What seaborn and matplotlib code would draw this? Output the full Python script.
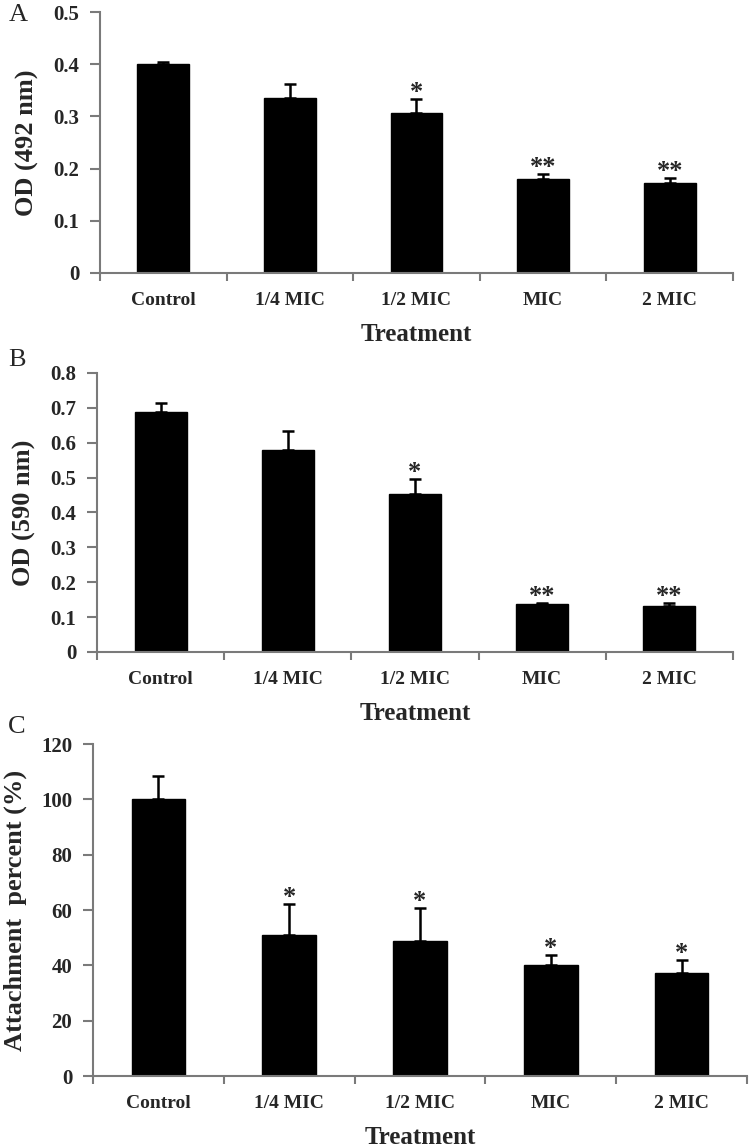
# --Libraries--
import numpy as np
import pandas as pd
import matplotlib
matplotlib.use("Agg")
import matplotlib.pyplot as plt
import seaborn as sns

# --Data--
treatments = ["Control", "1/4 MIC", "1/2 MIC", "MIC", "2 MIC"]

od492_mean = [0.400, 0.335, 0.306, 0.180, 0.173]
od492_sd = [0.005, 0.027, 0.028, 0.009, 0.009]
od492_stars = ["", "", "*", "**", "**"]

od590_mean = [0.689, 0.579, 0.452, 0.137, 0.132]
od590_sd = [0.024, 0.055, 0.044, 0.004, 0.009]
od590_stars = ["", "", "*", "**", "**"]

attach_mean = [100.0, 51.1, 48.8, 40.1, 37.1]
attach_sd = [8.4, 10.9, 11.8, 3.5, 4.8]
attach_stars = ["", "*", "*", "*", "*"]

# --Style--
sns.set_theme(style="white")
plt.rcParams["font.family"] = ["Liberation Serif", "DejaVu Serif"]
plt.rcParams["font.weight"] = "bold"

spine_col = "#7a7a7a"

fig = plt.figure(figsize=(7.49, 11.48), dpi=100)

# -panel spec: letter, means, sds, stars, y label, y max, y step, axes rect, letter y
panels = [
    ("A", od492_mean, od492_sd, od492_stars, "OD (492 nm)", 0.5, 0.1,
     [0.1335, 0.7622, 0.8451, 0.2273], 0.987),
    ("B", od590_mean, od590_sd, od590_stars, "OD (590 nm)", 0.8, 0.1,
     [0.1295, 0.4321, 0.8491, 0.2430], 0.686),
    ("C", attach_mean, attach_sd, attach_stars, "Attachment  percent (%)", 120, 20,
     [0.1242, 0.0627, 0.8731, 0.2892], 0.367),
]

for letter, means, sds, stars, ylab, ymax, ystep, rect, ly in panels:
    ax = fig.add_axes(rect)
    df = pd.DataFrame({"Treatment": treatments, "value": means})
    sns.barplot(data=df, x="Treatment", y="value", color="black",
                width=0.41, errorbar=None, saturation=1, ax=ax)
    for p in ax.patches:
        p.set_edgecolor("black")

    # -upper-only error bars, Excel style
    ax.errorbar(x=np.arange(len(means)), y=means,
                yerr=[np.zeros(len(sds)), sds], fmt="none",
                ecolor="black", elinewidth=1.8, capsize=4.5, capthick=1.8)

    # -significance stars
    for i, (m, s, st) in enumerate(zip(means, sds, stars)):
        if st:
            ax.annotate(st, xy=(i, m + s), xytext=(0, 0),
                        textcoords="offset points", ha="center",
                        va="baseline", fontsize=19, fontweight="bold")

    ax.set_xlim(-0.5, len(means) - 0.5)
    ax.set_ylim(0, ymax)
    yt = np.arange(0, ymax + ystep / 2, ystep)
    ax.set_yticks(yt)
    if ymax < 5:
        ax.set_yticklabels(["0"] + [f"{v:.1f}" for v in yt[1:]])
    else:
        ax.set_yticklabels([f"{int(v)}" for v in yt])

    # -x ticks at category boundaries, labels centred
    ax.set_xticks(np.arange(-0.5, len(means)), minor=True)
    ax.tick_params(axis="x", which="major", length=0, pad=14,
                   labelsize=14)
    ax.tick_params(axis="x", which="minor", length=6, width=1.5,
                   color=spine_col, direction="out", bottom=True)
    ax.tick_params(axis="y", which="major", length=7, width=1.5,
                   color=spine_col, direction="out", left=True, pad=8,
                   labelsize=15)

    for side in ["top", "right"]:
        ax.spines[side].set_visible(False)
    for side in ["left", "bottom"]:
        ax.spines[side].set_color(spine_col)
        ax.spines[side].set_linewidth(1.5)

    ax.set_xlabel("Treatment", fontsize=18, fontweight="bold", labelpad=10)
    ax.set_ylabel(ylab, fontsize=19, fontweight="bold", labelpad=10)

    # -panel letter
    fig.text(0.011, ly, letter, fontsize=19, fontweight="normal",
             ha="left", va="center")

fig.savefig("out.png", dpi=100)
